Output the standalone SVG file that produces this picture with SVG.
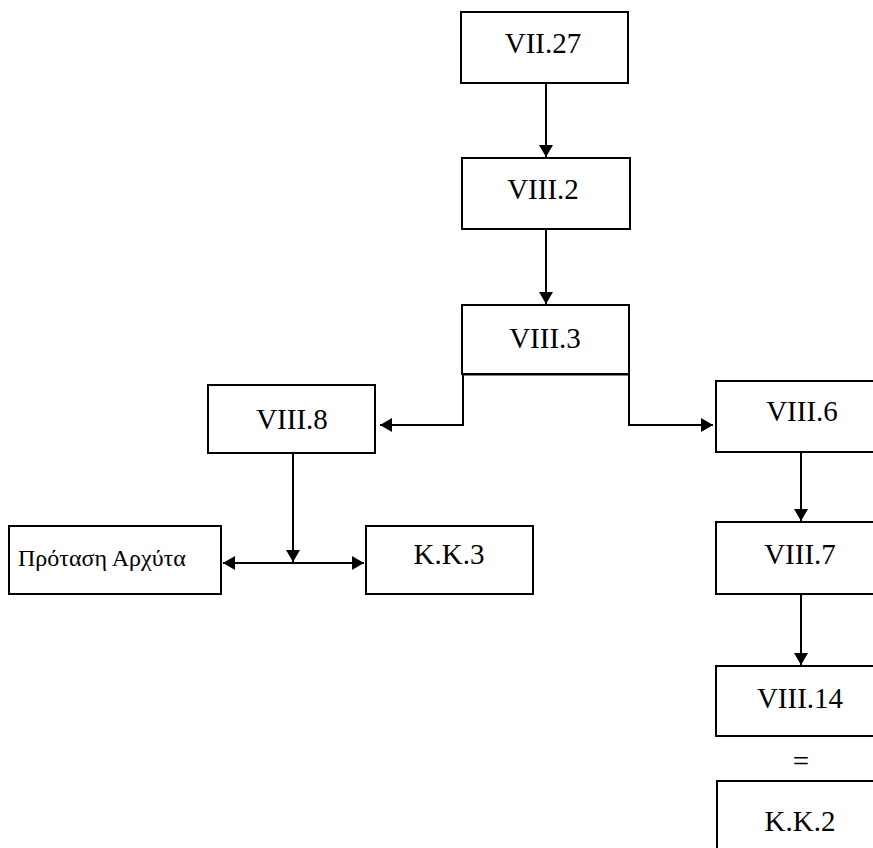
<svg xmlns="http://www.w3.org/2000/svg" width="873" height="848" viewBox="0 0 873 848">
<defs>
<style>
.box{fill:#fff;stroke:#000;stroke-width:2}
.lbl{font-family:"Liberation Serif","Times New Roman",serif;font-size:29px;fill:#000;text-anchor:middle}
.sm{font-family:"Liberation Serif","Times New Roman",serif;font-size:24px;fill:#000}
.ln{fill:none;stroke:#000;stroke-width:2}
</style>
<marker id="ah" viewBox="0 0 12 14" refX="12" refY="7" markerWidth="12" markerHeight="14" markerUnits="userSpaceOnUse" orient="auto-start-reverse">
<path d="M0,0 L12,7 L0,14 Z" fill="#000"/>
</marker>
</defs>
<rect width="873" height="848" fill="#fff"/>
<g id="connectors">
<line class="ln" x1="546" y1="84" x2="546" y2="157" marker-end="url(#ah)"/>
<line class="ln" x1="546" y1="230" x2="546" y2="304" marker-end="url(#ah)"/>
<line x1="462" y1="374" x2="630" y2="374" stroke="#000" stroke-width="3"/>
<polyline class="ln" points="463,374 463,425 380,425" marker-end="url(#ah)"/>
<polyline class="ln" points="629,374 629,425 713,425" marker-end="url(#ah)"/>
<line class="ln" x1="293" y1="454" x2="293" y2="562" marker-end="url(#ah)"/>
<line class="ln" x1="223" y1="563" x2="364" y2="563" marker-start="url(#ah)" marker-end="url(#ah)"/>
<line class="ln" x1="801" y1="453" x2="801" y2="521" marker-end="url(#ah)"/>
<line class="ln" x1="801" y1="595" x2="801" y2="665" marker-end="url(#ah)"/>
</g>
<g id="n-vii27"><rect class="box" x="461" y="12" width="167" height="71"/><text class="lbl" x="543" y="53">VII.27</text></g>
<g id="n-viii2"><rect class="box" x="462" y="158" width="168" height="71"/><text class="lbl" x="543" y="199">VIII.2</text></g>
<g id="n-viii3"><rect class="box" x="462" y="305" width="167" height="69"/><text class="lbl" x="545" y="348">VIII.3</text></g>
<g id="n-viii8"><rect class="box" x="208" y="385" width="167" height="68"/><text class="lbl" x="292" y="429">VIII.8</text></g>
<g id="n-viii6"><rect class="box" x="716" y="381" width="174" height="71"/><text class="lbl" x="802" y="421">VIII.6</text></g>
<g id="n-archytas"><rect class="box" x="9" y="526" width="212" height="68"/><text class="sm" x="18" y="566">Πρόταση Αρχύτα</text></g>
<g id="n-kk3"><rect class="box" x="366" y="526" width="167" height="68"/><text class="lbl" x="449" y="564">K.K.3</text></g>
<g id="n-viii7"><rect class="box" x="716" y="522" width="174" height="72"/><text class="lbl" x="800" y="564">VIII.7</text></g>
<g id="n-viii14"><rect class="box" x="716" y="666" width="174" height="70"/><text class="lbl" x="800" y="708">VIII.14</text></g>
<g id="eq"><text class="lbl" x="801" y="771">=</text></g>
<g id="n-kk2"><rect class="box" x="717" y="781" width="173" height="80"/><text class="lbl" x="800" y="831">K.K.2</text></g>
</svg>
